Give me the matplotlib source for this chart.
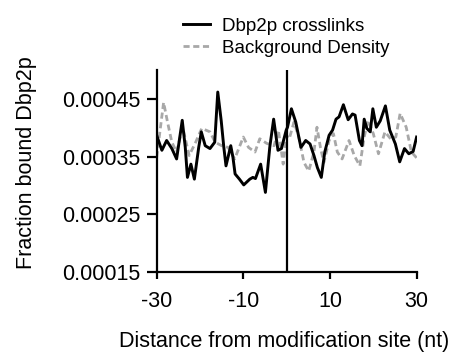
import numpy as np
import matplotlib
matplotlib.use("Agg")
import matplotlib.pyplot as plt

# values (x in nt, y in units of 1e-4)
crosslink_x = [-30.0, -28.8, -27.7, -26.5, -25.4, -24.1, -23.4, -22.9, -22.1, -21.3,
               -20.3, -19.7, -18.8, -17.7, -16.6, -15.9, -15.1, -14.5, -14.0, -12.9,
               -12.4, -11.9, -10.9, -9.9, -8.5, -7.8, -7.2, -6.0, -4.9, -3.9,
               -3.0, -2.0, -1.2, -0.1, 0.2, 1.1, 2.1, 3.3, 4.4, 5.4,
               6.3, 7.1, 8.0, 8.8, 9.8, 10.6, 11.4, 12.1, 13.1, 14.2,
               15.2, 15.8, 16.8, 17.4, 17.9, 18.5, 19.3, 19.9, 20.7, 21.6,
               22.8, 23.8, 25.1, 26.1, 27.2, 28.2, 29.2, 30.0]
crosslink_y = [3.87, 3.61, 3.78, 3.64, 3.46, 4.13, 3.66, 3.14, 3.37, 3.11,
               3.66, 3.93, 3.69, 3.64, 3.75, 4.62, 4.12, 3.66, 3.34, 3.69,
               3.49, 3.20, 3.11, 3.01, 3.11, 3.14, 3.12, 3.37, 2.88, 3.66,
               4.15, 3.61, 3.64, 3.96, 4.01, 4.33, 4.10, 3.66, 3.78, 3.72,
               3.52, 3.31, 3.14, 3.58, 3.87, 3.96, 4.15, 4.19, 4.40, 4.14,
               4.24, 4.22, 3.78, 3.69, 4.15, 3.99, 3.93, 4.33, 4.01, 4.12,
               4.38, 3.96, 3.72, 3.41, 3.64, 3.55, 3.59, 3.84]

background_x = [-30.0, -28.4, -27.5, -26.5, -25.4, -24.0, -22.5, -21.0, -19.6, -17.7,
                -16.5, -15.0, -13.5, -12.0, -10.0, -8.8, -7.3, -6.2, -4.6, -2.9,
                -1.9, -0.8, -0.1, 0.6, 1.7, 2.8, 4.0, 5.1, 6.3, 7.0,
                7.8, 8.6, 9.8, 10.8, 11.7, 12.8, 14.4, 15.6, 16.9, 17.9,
                18.8, 20.0, 21.2, 22.7, 24.0, 25.2, 26.2, 27.6, 28.8, 30.0]
background_y = [3.49, 4.44, 4.10, 3.75, 3.58, 4.01, 3.52, 3.75, 3.99, 3.93,
                3.75, 3.69, 3.66, 3.46, 3.84, 3.66, 3.58, 3.81, 3.73, 3.69,
                3.96, 3.37, 3.87, 3.81, 4.10, 3.84, 3.40, 3.25, 3.58, 4.01,
                3.66, 3.40, 3.78, 3.90, 3.58, 3.46, 3.78, 3.52, 3.34, 3.84,
                4.13, 3.90, 3.55, 3.93, 3.81, 3.84, 4.25, 4.01, 3.58, 3.48]

y_ticks = [0.00015, 0.00025, 0.00035, 0.00045]
x_ticks = [-30, -10, 10, 30]

plt.rcParams["font.family"] = ["Liberation Sans", "DejaVu Sans"]

fig = plt.figure(figsize=(4.56, 3.56), dpi=100)
ax = fig.add_axes([0.3436, 0.236, 0.570, 0.567])

ax.plot(crosslink_x, np.array(crosslink_y) * 1e-4, color="black", lw=2.1,
        solid_joinstyle="round", label="Dbp2p crosslinks", zorder=3)
ax.plot(background_x, np.array(background_y) * 1e-4, color="#a8a8a8", lw=2.0,
        linestyle=(0, (2.2, 1.3)), label="Background Density", zorder=2)
ax.axvline(0, color="black", lw=1.6, zorder=4)

ax.set_xlim(-30, 30)
ax.set_ylim(0.00015, 0.0005)
ax.set_xticks(x_ticks)
ax.set_xticklabels([str(t) for t in x_ticks])
ax.set_yticks(y_ticks)
ax.set_yticklabels([f"{t:.5f}" for t in y_ticks])

for s in ["top", "right"]:
    ax.spines[s].set_visible(False)
for s in ["left", "bottom"]:
    ax.spines[s].set_linewidth(1.6)
ax.tick_params(axis="y", length=7.5, width=1.6, pad=4, labelsize=15.5)
ax.tick_params(axis="x", length=5, width=1.6, pad=8.5, labelsize=15.5)

ax.set_ylabel("Fraction bound Dbp2p", fontsize=15.5)
ax.set_xlabel("Distance from modification site (nt)", fontsize=15.5)
ax.yaxis.set_label_coords(-0.462, 0.54)
ax.xaxis.set_label_coords(0.492, -0.29)

ax.legend(loc="lower center", bbox_to_anchor=(0.5, 1.03), frameon=False,
          fontsize=13.5, handlelength=1.45, handletextpad=0.64, labelspacing=0.25,
          borderaxespad=0)

fig.savefig("out.png", dpi=100)
